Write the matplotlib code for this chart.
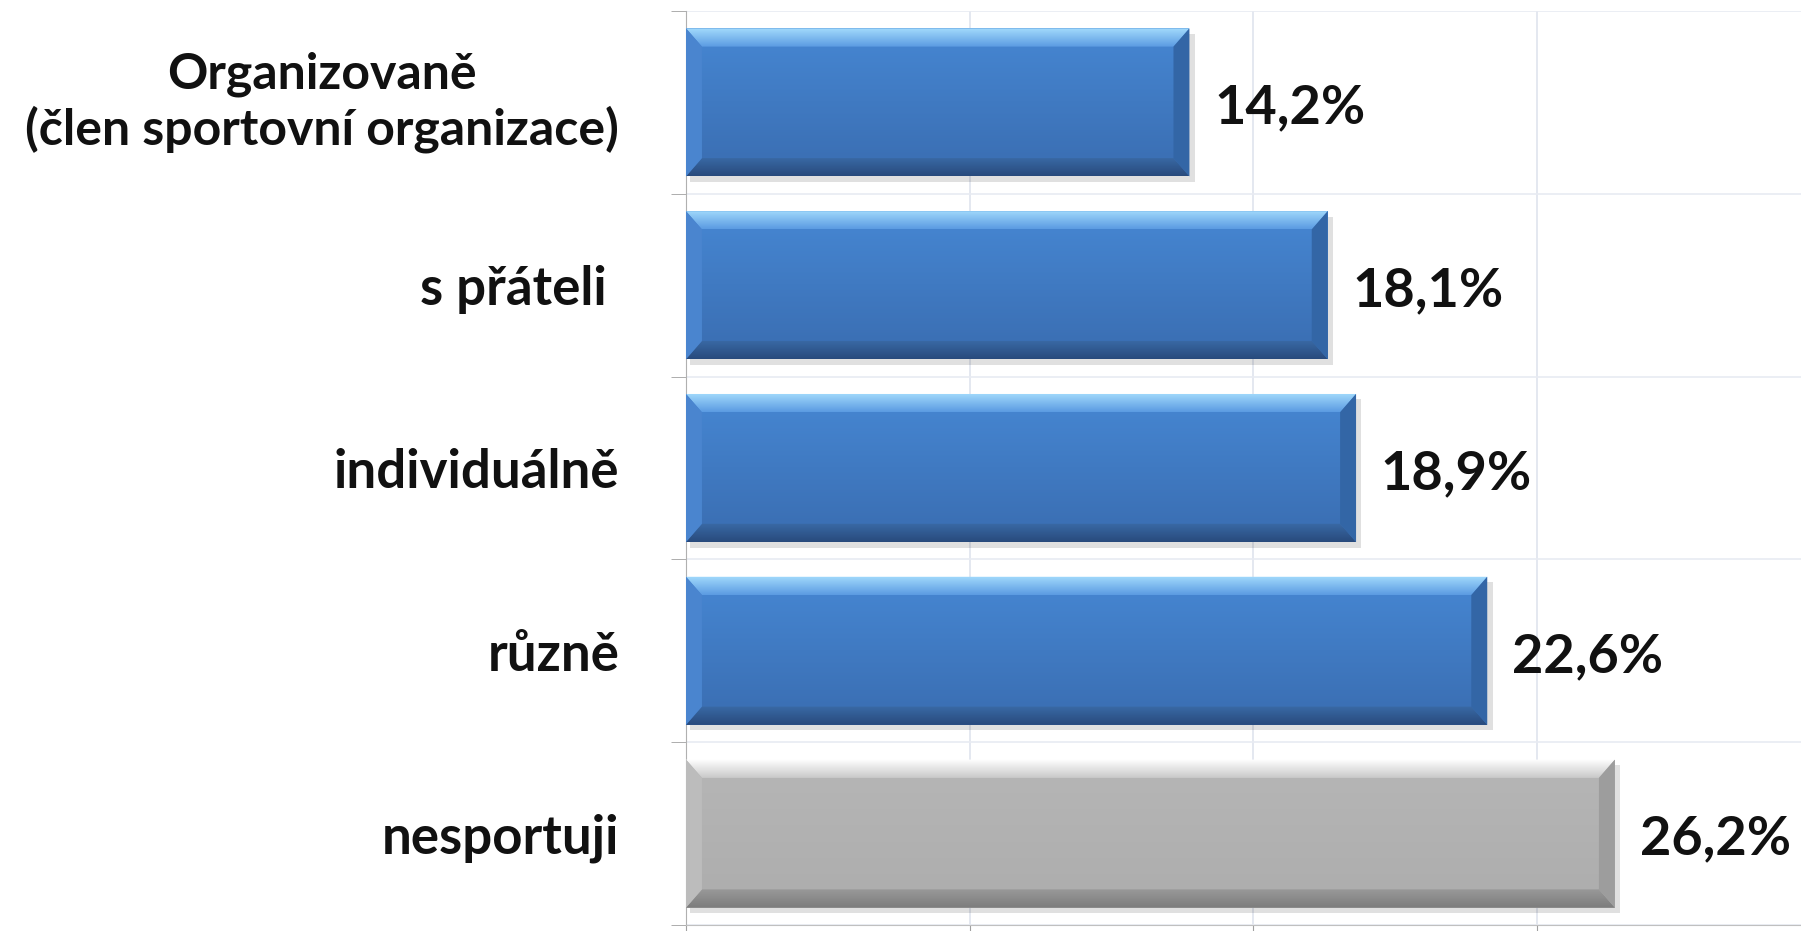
import numpy as np
import matplotlib
matplotlib.use("Agg")
import matplotlib.pyplot as plt
from matplotlib.patches import Polygon
from matplotlib.colors import to_rgb

plt.rcParams['font.family'] = ['Lato', 'DejaVu Sans']

categories = ["Organizovaně\n(člen sportovní organizace)", "s přáteli ",
              "individuálně", "různě", "nesportuji"]
values = [14.2, 18.1, 18.9, 22.6, 26.2]
gray_flags = [False, False, False, False, True]

blue = dict(mid=("#4687d3", "#3a6db1"), top=("#a2dafc", "#5b9be2"),
            bot=("#3a6aa6", "#284a7c"), left="#4a85cf", right="#3366a6")
gray = dict(mid=("#b6b6b6", "#adadad"), top=("#ffffff", "#c9c9c9"),
            bot=("#999999", "#7c7c7c"), left="#bcbcbc", right="#9d9d9d")


def grad_fill(ax, xy, c1, c2, z):
    poly = Polygon(xy, closed=True, facecolor="none", edgecolor="none")
    ax.add_patch(poly)
    xs = [p[0] for p in xy]
    ys = [p[1] for p in xy]
    a = np.array(to_rgb(c1))
    b = np.array(to_rgb(c2))
    t = np.linspace(0, 1, 64)[:, None]
    img = (a * (1 - t) + b * t)[:, None, :]
    im = ax.imshow(img, extent=(min(xs), max(xs), max(ys), min(ys)),
                   origin="upper", aspect="auto", interpolation="bilinear", zorder=z)
    im.set_clip_path(poly)


fig = plt.figure(figsize=(18.01, 9.31), dpi=100)
ax = fig.add_axes([0.3809, 0.0064, 0.6191, 0.9818])

h = 0.81
bx = 0.45
by = 0.10
ypos = np.arange(len(values))
bars = ax.barh(ypos, values, height=h, color="none", zorder=1)

for i, (v, g) in enumerate(zip(values, gray_flags)):
    st = gray if g else blue
    yt = i - h / 2
    yb = i + h / 2
    # shadow
    ax.add_patch(Polygon([(0.1, yt + 0.03), (v + 0.15, yt + 0.03), (v + 0.15, yb + 0.03),
                          (0.1, yb + 0.03)], closed=True, facecolor="#000000",
                         alpha=0.12, edgecolor="none", zorder=2))
    grad_fill(ax, [(0, yt), (v, yt), (v, yb), (0, yb)], st["mid"][0], st["mid"][1], 3)
    grad_fill(ax, [(0, yt), (v, yt), (v - bx, yt + by), (bx, yt + by)],
              st["top"][0], st["top"][1], 4)
    grad_fill(ax, [(bx, yb - by), (v - bx, yb - by), (v, yb), (0, yb)],
              st["bot"][0], st["bot"][1], 4)
    ax.add_patch(Polygon([(0, yt), (bx, yt + by), (bx, yb - by), (0, yb)], closed=True,
                         facecolor=st["left"], edgecolor="none", zorder=4))
    ax.add_patch(Polygon([(v, yt), (v - bx, yt + by), (v - bx, yb - by), (v, yb)],
                         closed=True, facecolor=st["right"], edgecolor="none", zorder=4))
    ax.text(v + 0.7, i + 0.03, ("%.1f%%" % v).replace(".", ","), va="center", ha="left",
            fontsize=39, fontweight="bold", color="#111111", zorder=5)

ax.set_xlim(0, 31.45)
ax.set_ylim(len(values) - 0.5, -0.5)
ax.set_xticks([0, 8, 16, 24])
ax.set_xticklabels([])
ax.tick_params(axis="x", length=8, color="#a0a0a0", direction="out")
ax.set_yticks(ypos)
ax.set_yticklabels(categories, fontsize=38, fontweight="bold", color="#111111",
                   multialignment="center", linespacing=1.2)
first = ax.get_yticklabels()[0]
first.set_fontsize(36)
first.set_verticalalignment("center")
ax.tick_params(axis="y", length=0, pad=48)
ax.set_yticks(np.arange(-0.5, len(values)), minor=True)
ax.tick_params(axis="y", which="minor", length=11, color="#a0a0a0")
ax.grid(axis="x", which="major", color="#dfe4ee", linewidth=1.2, zorder=0)
ax.grid(axis="y", which="minor", color="#e8ebf2", linewidth=1.2, zorder=0)
ax.set_axisbelow(True)
for s in ["top", "right"]:
    ax.spines[s].set_visible(False)
ax.spines["left"].set_color("#b0b0b0")
ax.spines["bottom"].set_color("#c0c0c0")

fig.savefig("out.png", dpi=100, facecolor="white")
